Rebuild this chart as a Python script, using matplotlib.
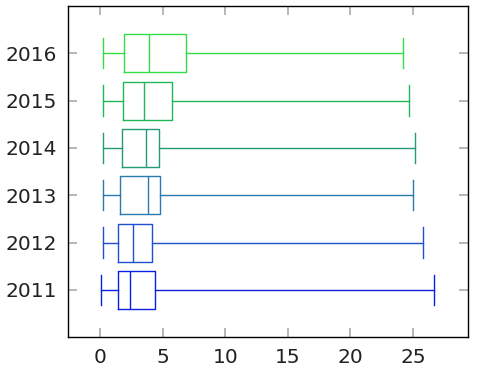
import matplotlib
matplotlib.use('Agg')
import matplotlib.pyplot as plt

years = ['2011', '2012', '2013', '2014', '2015', '2016']
whislo = [0.06, 0.24, 0.24, 0.24, 0.24, 0.24]
q1 = [1.39, 1.39, 1.60, 1.71, 1.79, 1.87]
med = [2.38, 2.62, 3.84, 3.63, 3.52, 3.92]
q3 = [4.38, 4.16, 4.75, 4.70, 5.76, 6.88]
whishi = [26.72, 25.82, 25.04, 25.15, 24.67, 24.24]
colors = ['#0a1fe6', '#1f50d0', '#2a7ab0', '#239a78', '#1fb858', '#33dd44']

stats = []
for i, y in enumerate(years):
    stats.append({'label': y, 'whislo': whislo[i], 'q1': q1[i], 'med': med[i],
                  'q3': q3[i], 'whishi': whishi[i], 'fliers': []})

fig = plt.figure(figsize=(4.78, 3.71), dpi=100)
ax = fig.add_axes([0.143, 0.091, 0.837, 0.893])

for i, s in enumerate(stats):
    c = colors[i]
    ax.bxp([s], positions=[i + 1], vert=False, widths=0.8, capwidths=0.64,
           showfliers=False,
           boxprops=dict(color=c, lw=1.0),
           whiskerprops=dict(color=c, lw=1.0),
           capprops=dict(color=c, lw=1.0),
           medianprops=dict(color=c, lw=1.0))

ax.set_yticks(range(1, len(years) + 1))
ax.set_yticklabels(years)
ax.set_xticks([0, 5, 10, 15, 20, 25])
ax.set_xlim(-2.56, 29.44)
ax.set_ylim(0, 7)
ax.tick_params(direction='in', length=6.5, width=1.2, color='#aaaaaa',
               labelsize=14.5, labelcolor='#222222', top=True, right=True, pad=8)
for sp in ax.spines.values():
    sp.set_color('black')
    sp.set_linewidth(1.0)

plt.savefig('out.png', dpi=100)
